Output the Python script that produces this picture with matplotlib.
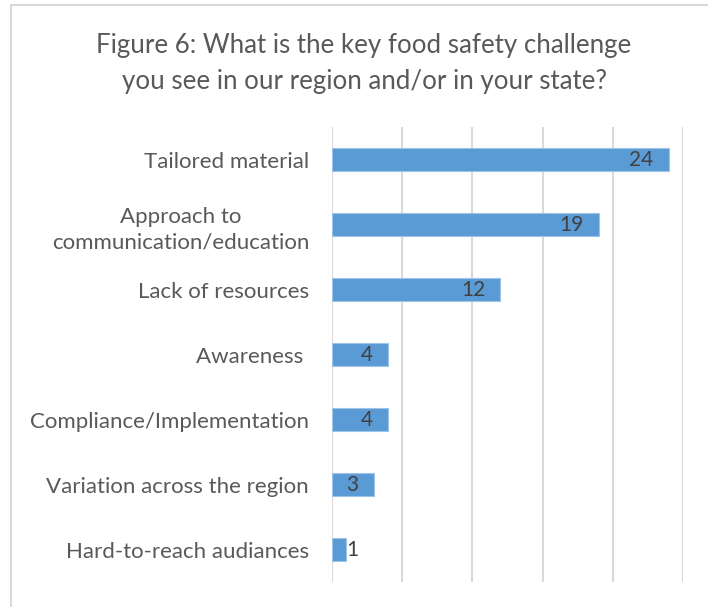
import matplotlib.pyplot as plt

# data (top to bottom as shown)
categories = ['Tailored material', 'Approach to\ncommunication/education', 'Lack of resources',
              'Awareness ', 'Compliance/Implementation', 'Variation across the region',
              'Hard-to-reach audiances']
counts = [24, 19, 12, 4, 4, 3, 1]
title = 'Figure 6: What is the key food safety challenge\nyou see in our region and/or in your state?'

plt.rcParams['font.family'] = ['Lato', 'DejaVu Sans']

fig = plt.figure(figsize=(7.08, 6.07), dpi=100)
ax = fig.add_axes([332/708, 1-582/607, (683-332)/708, (582-127)/607])

ypos = list(range(len(categories)))[::-1]
bars = ax.barh(ypos, counts, height=0.34, color='#5B9BD5', edgecolor='#9DC3E6', linewidth=0.8, zorder=3)

ax.set_xlim(0, 25)
ax.set_ylim(-0.5, len(categories) - 0.5)
ax.set_xticks(range(0, 26, 5))
ax.set_xticklabels([])
ax.tick_params(axis='x', length=0)
ax.grid(axis='x', color='#D9D9D9', linewidth=1.5, zorder=0)
ax.set_yticks(ypos)
ax.set_yticklabels(categories, fontsize=16, color='#595959', multialignment='center', linespacing=1.35)
ax.tick_params(axis='y', length=0, pad=16.5)
for s in ax.spines.values():
    s.set_visible(False)

# value labels
for y, v in zip(ypos, counts):
    if v >= 3:
        ax.text(v - 1.1, y, str(v), ha='right', va='center', fontsize=15, color='#404040', zorder=4)
    else:
        ax.text(v + 0.05, y, str(v), ha='left', va='center', fontsize=15, color='#404040', zorder=4)

fig.text(364/708, 1-64/607, title, ha='center', va='center', fontsize=18.6, color='#595959', linespacing=1.55)

# chart border (left and top edges visible)
fig.add_artist(plt.Line2D([11/708, 11/708], [0, 1-5/607], transform=fig.transFigure, color='#D9D9D9', linewidth=1.5))
fig.add_artist(plt.Line2D([11/708, 1], [1-5/607, 1-5/607], transform=fig.transFigure, color='#D9D9D9', linewidth=1.5))

fig.savefig('out.png', dpi=100, facecolor='white')
